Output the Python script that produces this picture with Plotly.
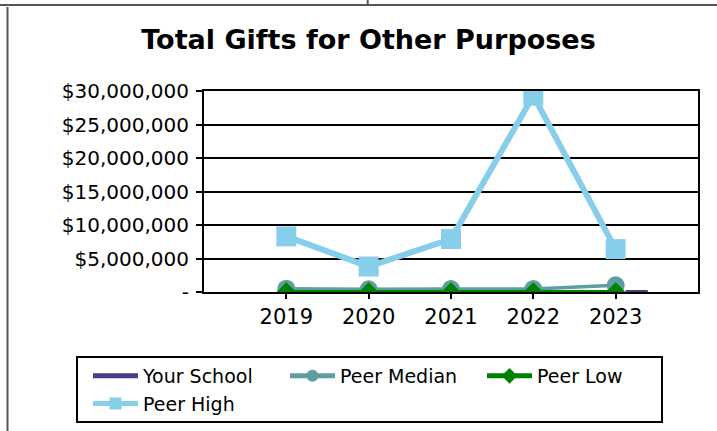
import plotly.graph_objects as go

# ---- data ----
years = [2019, 2020, 2021, 2022, 2023]
your_school = [0, 0, 0, 0, 200000]
peer_median = [500000, 400000, 450000, 450000, 1000000]
peer_low = [0, 0, 0, 0, 0]
peer_high = [8300000, 3800000, 7900000, 29300000, 6400000]

y_tickvals = [0, 5000000, 10000000, 15000000, 20000000, 25000000, 30000000]
y_ticktext = ["-", "$5,000,000", "$10,000,000", "$15,000,000",
              "$20,000,000", "$25,000,000", "$30,000,000"]

W, H = 717, 431
L, R, T, B = 204, 19, 91, 139
plot_w = W - L - R
plot_h = H - T - B

FONT = "DejaVu Sans"
SCHOOL = "#483D8B"


def px_x(px):
    return (px - L) / plot_w


def px_y(py):
    return (H - B - py) / plot_h


fig = go.Figure()

fig.add_trace(go.Bar(
    x=years, y=your_school, name="Your School",
    marker=dict(color=SCHOOL, line=dict(width=0)),
    offset=0.12, width=0.27,
    legendgroup="school", showlegend=False,
))
# legend swatch for the bar series (wide block instead of the small square)
fig.add_trace(go.Scatter(
    x=[None], y=[None], name="Your School", mode="lines",
    line=dict(color=SCHOOL, width=17),
    legendgroup="school", showlegend=True,
))
fig.add_trace(go.Scatter(
    x=years, y=peer_median, name="Peer Median", mode="lines+markers",
    line=dict(color="#5F9EA0", width=3.5),
    marker=dict(symbol="circle", size=18, color="#5F9EA0"),
))
fig.add_trace(go.Scatter(
    x=years, y=peer_low, name="Peer Low", mode="lines+markers",
    line=dict(color="#008000", width=4),
    marker=dict(symbol="diamond", size=15, color="#008000"),
))
fig.add_trace(go.Scatter(
    x=years, y=peer_high, name="Peer High", mode="lines+markers",
    line=dict(color="#87CEEB", width=6),
    marker=dict(symbol="square", size=20, color="#87CEEB"),
))

# page frame lines around the chart block
frame = [
    (0, 5, W, 5),
    (367.7, 0, 367.7, 5),
    (7.5, 7, 7.5, H),
]
shapes = [
    dict(type="line", xref="paper", yref="paper",
         x0=px_x(x0), y0=px_y(y0), x1=px_x(x1), y1=px_y(y1),
         line=dict(color="#555555", width=2), layer="above")
    for x0, y0, x1, y1 in frame
]
# legend frame
shapes.append(dict(
    type="rect", xref="paper", yref="paper",
    x0=px_x(77), x1=px_x(662), y0=px_y(357), y1=px_y(422),
    line=dict(color="black", width=2), fillcolor="rgba(0,0,0,0)",
    layer="above",
))

fig.update_layout(
    width=W, height=H,
    margin=dict(l=L, r=R, t=T, b=B, pad=0, autoexpand=False),
    paper_bgcolor="white", plot_bgcolor="white",
    font=dict(family=FONT, color="black", size=20),
    title=dict(
        text="<b>Total Gifts for Other Purposes</b>",
        font=dict(family=FONT, size=27, color="black"),
        xref="container", yref="container",
        x=368.5 / W, xanchor="center",
        y=1 - 40 / H, yanchor="middle",
    ),
    xaxis=dict(
        range=[2018, 2024],
        tickmode="array", tickvals=years, ticktext=[str(y) for y in years],
        ticks="outside", ticklen=5, tickwidth=1.5, tickcolor="black",
        showline=True, linecolor="black", linewidth=2, mirror=True,
        showgrid=False, zeroline=False, automargin=False,
        tickfont=dict(family=FONT, size=21),
    ),
    yaxis=dict(
        range=[0, 30000000],
        tickmode="array", tickvals=y_tickvals, ticktext=y_ticktext,
        ticks="outside", ticklen=6, tickwidth=1.5, tickcolor="black",
        showline=True, linecolor="black", linewidth=2, mirror=True,
        showgrid=True, gridcolor="black", gridwidth=1.5,
        zeroline=False, automargin=False,
        tickfont=dict(family=FONT, size=20),
        ticklabelstandoff=3,
    ),
    legend=dict(
        orientation="h",
        x=px_x(88), xanchor="left",
        y=px_y(357), yanchor="top",
        borderwidth=0, bgcolor="rgba(0,0,0,0)",
        font=dict(family=FONT, size=19),
        itemwidth=45,
        itemsizing="constant",
        entrywidth=137,
        traceorder="normal",
    ),
    shapes=shapes,
    showlegend=True,
)

fig.write_html("out.html")
